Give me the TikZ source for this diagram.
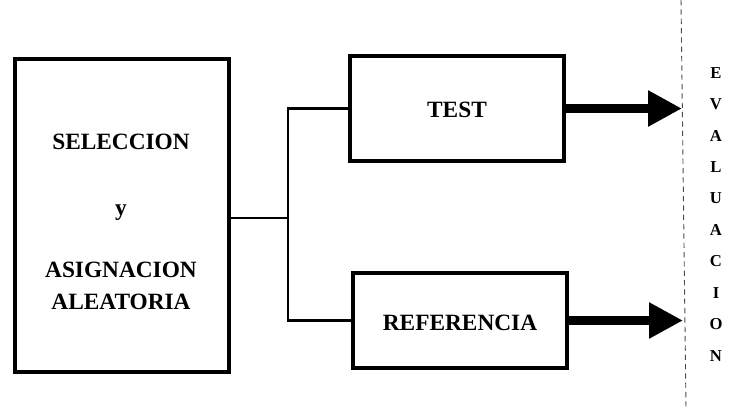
\documentclass[tikz,border=0pt]{standalone}
\usepackage{fontspec}
\setmainfont{Liberation Serif}
\usetikzlibrary{arrows.meta}
\begin{document}
\begin{tikzpicture}[x=0.75pt,y=-0.75pt,
  boxnode/.style={draw,line width=2.4pt,rectangle,inner sep=0pt},
  boxtext/.style={font=\bfseries\fontsize{17.5}{20}\selectfont,inner sep=0pt},
  evtext/.style={font=\bfseries\fontsize{12.5}{14}\selectfont,inner sep=0pt},
  link/.style={line width=1.7pt},
  bigarrow/.style={line width=6.5pt,-{Triangle[length=25.5pt,width=25.5pt]}}]
\useasboundingbox (0,0) rectangle (731,411);
% boxes
\node[boxnode,minimum width=214*0.75pt,minimum height=313*0.75pt] (sel) at (122,215.5) {};
\node[boxnode,minimum width=214*0.75pt,minimum height=105*0.75pt] (test) at (457,108.5) {};
\node[boxnode,minimum width=214*0.75pt,minimum height=95*0.75pt] (ref) at (460,320.5) {};
% texts
\node[boxtext] (t1) at (121,142) {SELECCION};
\node[boxtext] (t2) at (121,213) {y};
\node[boxtext] (t3) at (121,270) {ASIGNACION};
\node[boxtext] (t4) at (121,302) {ALEATORIA};
\node[boxtext] (t5) at (457,110) {TEST};
\node[boxtext] (t6) at (460,323) {REFERENCIA};
% connectors
\coordinate (j) at (288,218);
\draw[link] (sel.east |- j) -- (j);
\draw[link] (test.west) -| (j) |- (ref.west);
% arrows
\coordinate (tipA) at (682,108.5);
\coordinate (tipB) at (683,320.5);
\draw[bigarrow] (test.east) -- (tipA);
\draw[bigarrow] (ref.east) -- (tipB);
% dashed line
\coordinate (dtop) at (681,0);
\coordinate (dbot) at (686,408);
\draw[line width=0.7pt,dash pattern=on 4pt off 3pt,black!70] (dtop) -- (dbot);
% vertical word
\foreach \l [count=\i] in {E,V,A,L,U,A,C,I,O,N}{
  \node[evtext] (ev\i) at (716,{73+(\i-1)*31.4}) {\l};
}
\end{tikzpicture}
\end{document}
